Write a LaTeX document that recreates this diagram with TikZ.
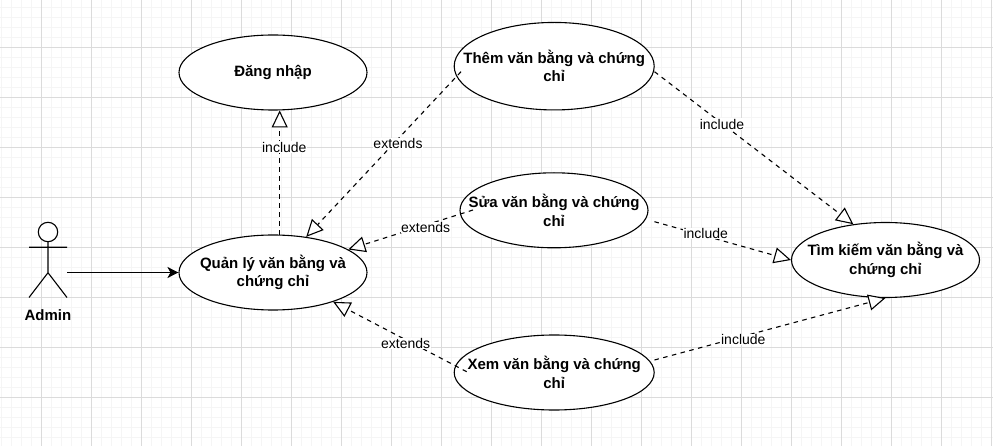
\documentclass[tikz,border=0pt]{standalone}
\usepackage{fontspec}
\setmainfont{Liberation Sans}
\usetikzlibrary{shapes.geometric,arrows.meta}
\tikzset{
  gridminor/.style={draw=black!4,line width=1pt},
  gridmajor/.style={draw=black!14,line width=1pt},
  usecase/.style={ellipse,draw=black,fill=white,line width=1.1pt,inner xsep=-60pt,inner ysep=0pt,align=center,
    font=\fontsize{15}{18.3}\selectfont\bfseries},
  stickman/.style={draw=black,line width=1.1pt},
  assoc/.style={draw=black,line width=1.1pt,-{Stealth[length=11pt,width=11pt,inset=3pt]}},
  dep/.style={draw=black,line width=1.1pt,dash pattern=on 4.5pt off 4.5pt,
    -{Triangle[open,fill=white,length=17pt,width=16pt,line width=1.1pt]}},
  deplabel/.style={fill=white,inner sep=0.6pt,font=\fontsize{14}{16}\selectfont},
  actorlabel/.style={inner sep=0pt,font=\fontsize{15}{16}\selectfont\bfseries}
}
\begin{document}
\begin{tikzpicture}[x=1pt,y=-1pt]
\useasboundingbox (0,0) rectangle (993,446);
\fill[white] (0,0) rectangle (993,446);
% grid
\foreach \k in {0,...,99} {
  \draw[gridminor] ({1.67+10*\k},0) -- ({1.67+10*\k},446);
}
\foreach \k in {0,...,44} {
  \draw[gridminor] (0,{7.33+10*\k}) -- (993,{7.33+10*\k});
}
\foreach \k in {0,...,19} {
  \draw[gridmajor] ({41.67+50*\k},0) -- ({41.67+50*\k},446);
}
\foreach \k in {0,...,7} {
  \draw[gridmajor] (0,{47.33+50*\k}) -- (993,{47.33+50*\k});
}
% use cases
\node[usecase,minimum width=188pt,minimum height=75pt] (login) at (273,72.5) {Đăng nhập};
\node[usecase,minimum width=188pt,minimum height=75pt] (manage) at (273,272.5) {Quản lý văn bằng và\\chứng chỉ};
\node[usecase,minimum width=200pt,minimum height=87.5pt] (add) at (554.2,66.2) {Thêm văn bằng và chứng\\chỉ};
\node[usecase,minimum width=188pt,minimum height=75pt] (edit) at (554,210.3) {Sửa văn bằng và chứng\\chỉ};
\node[usecase,minimum width=200pt,minimum height=75pt] (view) at (554.2,372.5) {Xem văn bằng và chứng\\chỉ};
\node[usecase,minimum width=188pt,minimum height=75pt] (search) at (885.5,260) {Tìm kiếm văn bằng và\\chứng chỉ};
% actor
\coordinate (hip) at (48,272.7);
\coordinate (armL) at (29,247.3);
\coordinate (armR) at (67,247.3);
\coordinate (legL) at (29,297.5);
\coordinate (legR) at (67,297.5);
\node[circle,draw=black,fill=white,line width=1.1pt,minimum size=19.4pt,inner sep=0pt] (head) at (48,232) {};
\draw[stickman] (head.south) -- (hip) (armL) -- (armR) (legL) -- (hip) -- (legR);
\node[actorlabel] (admin) at (48,315) {Admin};
% free ends
\coordinate (actorR) at (67,272.5);
\coordinate (fromAdd) at (461,71.7);
\coordinate (fromEdit) at (473,210);
\coordinate (fromView) at (466.7,371.7);
\coordinate (toAddEnd) at (654.5,71.7);
\coordinate (toEditEnd) at (654.5,221.7);
\coordinate (toViewEnd) at (654.5,360);
% connectors
\draw[assoc] (actorR) -- (manage.west);
\draw[dep] (manage.80.5) -- (login.-80.5);
\draw[dep] (fromAdd) -- (manage.47.5);
\draw[dep] (fromEdit) -- (manage.17.2);
\draw[dep] (fromView) -- (manage.-26.8);
\draw[dep] (toAddEnd) -- (search.132.7);
\draw[dep] (toEditEnd) -- (search.west);
\draw[dep] (toViewEnd) -- (search.south);
% labels
\node[deplabel] (l1) at (284.3,147) {include};
\node[deplabel] (l2) at (398,143.3) {extends};
\node[deplabel] (l3) at (425.7,227.3) {extends};
\node[deplabel] (l4) at (405.7,343.3) {extends};
\node[deplabel] (l5) at (722,124) {include};
\node[deplabel] (l6) at (705.7,233.3) {include};
\node[deplabel] (l7) at (743.3,339.3) {include};
\end{tikzpicture}
\end{document}
